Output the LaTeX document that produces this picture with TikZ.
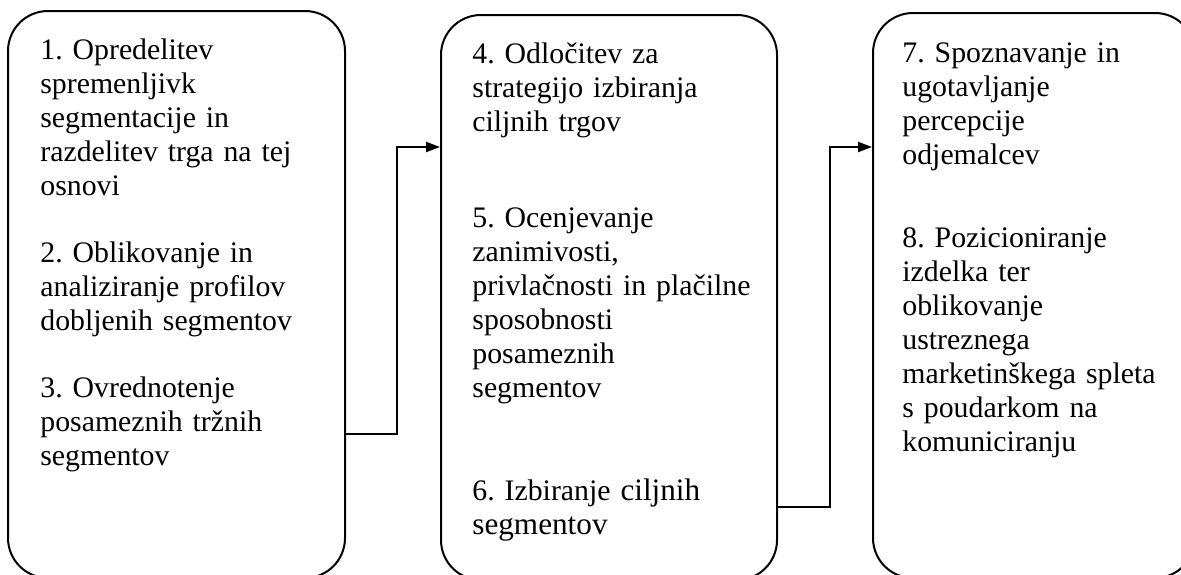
\documentclass[tikz,border=0pt]{standalone}
\usepackage{fontspec}
\setmainfont{Liberation Serif}
\frenchspacing
\usetikzlibrary{arrows.meta}
\tikzset{
  stage/.style={draw, line width=1pt, rounded corners=20pt, rectangle, inner sep=0pt},
  steptext/.style={anchor=base west, inner sep=0pt, text width=165pt, align=left,
    font=\fontsize{14.9}{17}\selectfont},
  conn/.style={line width=1pt, -{Triangle[length=7pt,width=5pt]}}
}
\begin{document}
\begin{tikzpicture}[x=0.5pt, y=-0.5pt]
\useasboundingbox (0,0) rectangle (1181,574);
\clip (0,0) rectangle (1181,574);

% three stage boxes (their lower edges run past the frame)
\node[stage, minimum width=168.5pt, minimum height=283.5pt] (box1) at (176.5,294.5) {};
\node[stage, minimum width=168pt, minimum height=282.5pt] (box2) at (609,297.5) {};
\node[stage, minimum width=161pt, minimum height=282.5pt] (box3) at (1034,295.5) {};

% box 1
\node[steptext] (t1) at (40,59) {1. Opredelitev\\ spremenljivk\\ segmentacije in\\ razdelitev trga na tej\\ osnovi};
\node[steptext] (t2) at (40,262) {2. Oblikovanje in\\ analiziranje profilov\\ dobljenih segmentov};
\node[steptext] (t3) at (40,397) {3. Ovrednotenje\\ posameznih tržnih\\ segmentov};

% box 2
\node[steptext] (t4) at (472,63) {4. Odločitev za\\ strategijo izbiranja\\ ciljnih trgov};
\node[steptext] (t5) at (472,227) {5. Ocenjevanje\\ zanimivosti,\\ privlačnosti in plačilne\\ sposobnosti\\ posameznih\\ segmentov};
\node[steptext] (t6) at (472,500) {6. Izbiranje {\fontsize{15.6}{18.5}\selectfont ciljnih\\ segmentov}};

% box 3
\node[steptext] (t7) at (902,62) {7. Spoznavanje in\\ ugotavljanje\\ percepcije\\ odjemalcev};
\node[steptext] (t8) at (902,247) {8. Pozicioniranje\\ izdelka ter\\ oblikovanje\\ ustreznega\\ marketinškega spleta\\ s poudarkom na\\ komuniciranju};

% connector routing points
\coordinate (s1) at (0,434);
\coordinate (j1) at (397,300);
\coordinate (e1) at (0,147);
\coordinate (s2) at (0,507);
\coordinate (j2) at (830,300);
\coordinate (e2) at (0,147);

\draw[conn] (box1.east |- s1) -| (j1) |- (box2.west |- e1);
\draw[conn] (box2.east |- s2) -| (j2) |- (box3.west |- e2);
\end{tikzpicture}
\end{document}
